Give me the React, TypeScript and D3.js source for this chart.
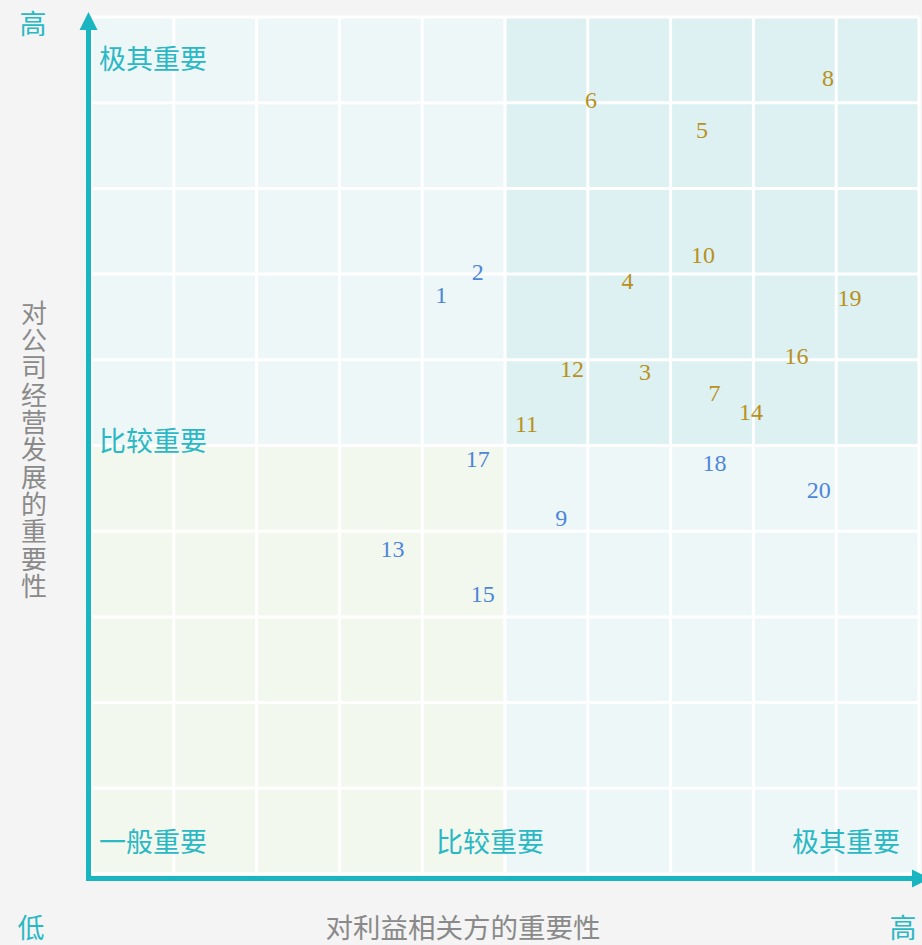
import * as d3 from "d3";

const labels = ["1", "2", "3", "4", "5", "6", "7", "8", "9", "10", "11", "12", "13", "14", "15", "16", "17", "18", "19", "20"];
const stakeholderImportance = [4.23, 4.67, 6.69, 6.48, 7.38, 6.04, 7.53, 8.9, 5.68, 7.39, 5.26, 5.81, 3.64, 7.97, 4.73, 8.52, 4.67, 7.53, 9.16, 8.79];
const businessImportance = [6.76, 7.03, 5.86, 6.92, 8.69, 9.04, 5.62, 9.29, 4.16, 7.23, 5.26, 5.9, 3.8, 5.4, 3.27, 6.05, 4.85, 4.8, 6.72, 4.49];
const gridTicks = d3.range(0, 11);
const levelLabels = ["一般重要", "比较重要", "极其重要"];
const xTitle = "对利益相关方的重要性";
const yTitle = "对公司经营发展的重要性";

const W = 922;
const H = 945;
const teal = "#19b5c1";
const cjk = "'Noto Sans CJK SC', 'Noto Sans', sans-serif";

export default function App() {
  const x = d3.scaleLinear().domain([0, 10]).range([91, 919]);
  const y = d3.scaleLinear().domain([0, 10]).range([874, 17]);

  const quads = [
    { x0: 0, x1: 5, y0: 5, y1: 10, fill: "#eef7f8" },
    { x0: 5, x1: 10, y0: 5, y1: 10, fill: "#ddf0f2" },
    { x0: 0, x1: 5, y0: 0, y1: 5, fill: "#f3f8ee" },
    { x0: 5, x1: 10, y0: 0, y1: 5, fill: "#eef7f8" },
  ];

  const axisX = 88.5;
  const axisY = 878.5;

  return (
    <svg width={W} height={H} style={{ position: "absolute", left: 0, top: 0 }}>
      <rect width={W} height={H} fill="#f4f4f4" />
      {quads.map((q, i) => (
        <rect key={i} x={x(q.x0)} y={y(q.y1)} width={x(q.x1) - x(q.x0)} height={y(q.y0) - y(q.y1)} fill={q.fill} />
      ))}
      {gridTicks.map((t) => (
        <line key={"v" + t} x1={x(t)} x2={x(t)} y1={y(10)} y2={y(0)} stroke="#fff" strokeWidth={3} />
      ))}
      {gridTicks.map((t) => (
        <line key={"h" + t} x1={x(0)} x2={x(10)} y1={y(t)} y2={y(t)} stroke="#fff" strokeWidth={3} />
      ))}

      {/* axes */}
      <line x1={axisX} x2={axisX} y1={axisY + 2.5} y2={28} stroke={teal} strokeWidth={5} />
      <path d={`M${axisX},12 L${axisX - 9},30 L${axisX + 9},30 Z`} fill={teal} />
      <line x1={axisX - 2.5} x2={914} y1={axisY} y2={axisY} stroke={teal} strokeWidth={5} />
      <path d={`M930,${axisY} L912,${axisY - 9} L912,${axisY + 9} Z`} fill={teal} />

      {/* quadrant labels */}
      <g fontFamily={cjk} fontSize={27} fill="#2ab8c4">
        <text x={99} y={69}>{levelLabels[2]}</text>
        <text x={99} y={451}>{levelLabels[1]}</text>
        <text x={99} y={852}>{levelLabels[0]}</text>
        <text x={490} y={852} textAnchor="middle">{levelLabels[1]}</text>
        <text x={900} y={852} textAnchor="end">{levelLabels[2]}</text>
        <text x={33} y={34} textAnchor="middle">高</text>
        <text x={31} y={938} textAnchor="middle">低</text>
        <text x={903} y={938} textAnchor="middle">高</text>
      </g>

      {/* axis titles */}
      <text x={463} y={938} textAnchor="middle" fontFamily={cjk} fontSize={27.5} fill="#8a8a8a">{xTitle}</text>
      <text
        x={34}
        y={300}
        fontFamily={cjk}
        fontSize={26}
        fill="#8a8a8a"
        style={{ writingMode: "vertical-rl", letterSpacing: "1.3px" }}
      >
        {yTitle}
      </text>

      {/* points */}
      <g fontFamily="'Liberation Serif', 'DejaVu Serif', serif" fontSize={24} textAnchor="middle">
        {labels.map((l, i) => {
          const sx = stakeholderImportance[i];
          const by = businessImportance[i];
          const hot = sx > 5 && by > 5;
          return (
            <text key={l} x={x(sx)} y={y(by)} dy="0.35em" fill={hot ? "#b8911c" : "#4d86d9"}>
              {l}
            </text>
          );
        })}
      </g>
    </svg>
  );
}
